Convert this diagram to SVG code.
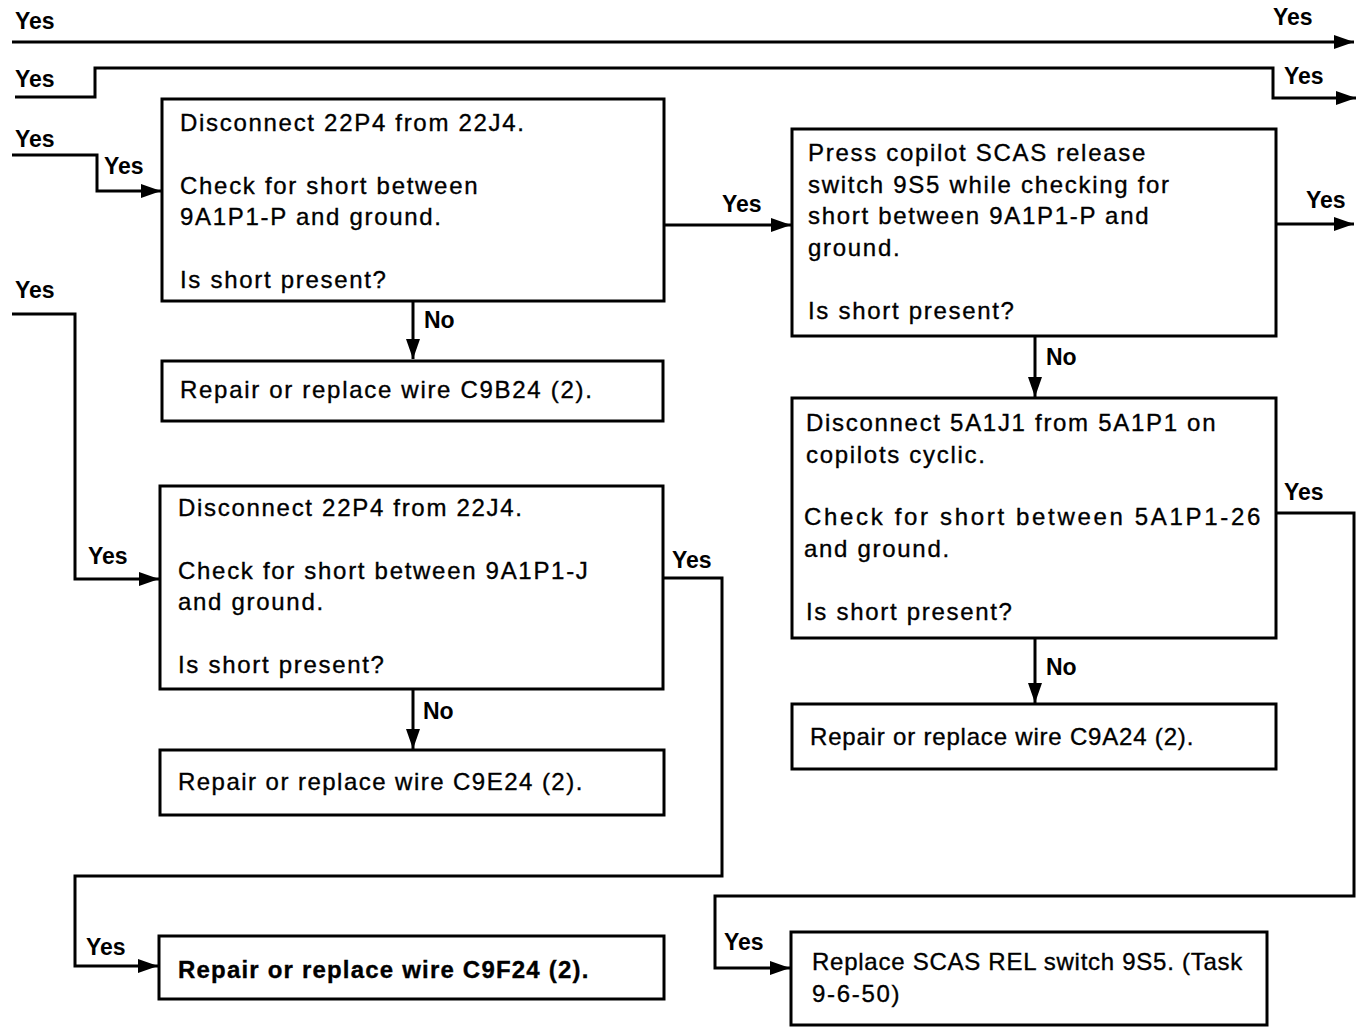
<svg xmlns="http://www.w3.org/2000/svg" width="1360" height="1027" viewBox="0 0 1360 1027">
<style>
.box{fill:#fff;stroke:#000;stroke-width:3}
.t{font-family:"Liberation Sans",Arial,sans-serif;font-size:24px;letter-spacing:1.7px;fill:#000;stroke:#000;stroke-width:0.35}
.lb{font-family:"Liberation Sans",Arial,sans-serif;font-size:23px;font-weight:bold;fill:#000}
.c{fill:none;stroke:#000;stroke-width:3}
</style>
<defs>
<marker id="ah" markerUnits="userSpaceOnUse" markerWidth="22" markerHeight="14" refX="20" refY="7" orient="auto">
<path d="M0,0 L20,7 L0,14 Z" fill="#000"/>
</marker>
</defs>
<rect width="1360" height="1027" fill="#fff"/>
<g id="connectors">
<path class="c" d="M12,42 H1354" marker-end="url(#ah)"/>
<path class="c" d="M15,97 H95 V68 H1273 V98 H1356" marker-end="url(#ah)"/>
<path class="c" d="M12,155 H97 V191 H161" marker-end="url(#ah)"/>
<path class="c" d="M12,314 H75 V579 H159" marker-end="url(#ah)"/>
<path class="c" d="M413,301 V359" marker-end="url(#ah)"/>
<path class="c" d="M664,225 H791" marker-end="url(#ah)"/>
<path class="c" d="M1276,224 H1354" marker-end="url(#ah)"/>
<path class="c" d="M1035,336 V397" marker-end="url(#ah)"/>
<path class="c" d="M1035,638 V703" marker-end="url(#ah)"/>
<path class="c" d="M1276,513 H1354 V896 H715 V968 H790" marker-end="url(#ah)"/>
<path class="c" d="M413,689 V749" marker-end="url(#ah)"/>
<path class="c" d="M663,578 H722 V876 H75 V966 H158" marker-end="url(#ah)"/>
<text class="lb" x="15" y="29">Yes</text>
<text class="lb" x="1273" y="25">Yes</text>
<text class="lb" x="15" y="87">Yes</text>
<text class="lb" x="1284" y="84">Yes</text>
<text class="lb" x="15" y="147">Yes</text>
<text class="lb" x="104" y="174">Yes</text>
<text class="lb" x="15" y="298">Yes</text>
<text class="lb" x="88" y="564">Yes</text>
<text class="lb" x="722" y="212">Yes</text>
<text class="lb" x="1306" y="208">Yes</text>
<text class="lb" x="424" y="328">No</text>
<text class="lb" x="1046" y="365">No</text>
<text class="lb" x="1046" y="675">No</text>
<text class="lb" x="423" y="719">No</text>
<text class="lb" x="1284" y="500">Yes</text>
<text class="lb" x="672" y="568">Yes</text>
<text class="lb" x="724" y="950">Yes</text>
<text class="lb" x="86" y="955">Yes</text>
</g>
<g id="box1">
<rect class="box" x="162" y="99" width="502" height="202"/>
<text class="t" x="180" y="131">Disconnect 22P4 from 22J4.</text>
<text class="t" x="180" y="194">Check for short between</text>
<text class="t" x="180" y="225">9A1P1-P and ground.</text>
<text class="t" x="180" y="288">Is short present?</text>
</g>
<g id="box2">
<rect class="box" x="162" y="361" width="501" height="60"/>
<text class="t" x="180" y="398">Repair or replace wire C9B24 (2).</text>
</g>
<g id="box3">
<rect class="box" x="792" y="129" width="484" height="207"/>
<text class="t" x="808" y="161">Press copilot SCAS release</text>
<text class="t" x="808" y="193">switch 9S5 while checking for</text>
<text class="t" x="808" y="224">short between 9A1P1-P and</text>
<text class="t" x="808" y="256">ground.</text>
<text class="t" x="808" y="319">Is short present?</text>
</g>
<g id="box4">
<rect class="box" x="792" y="398" width="484" height="240"/>
<text class="t" x="806" y="431">Disconnect 5A1J1 from 5A1P1 on</text>
<text class="t" x="806" y="463" letter-spacing="1.2">copilots cyclic.</text>
<text class="t" x="804" y="525" letter-spacing="0.8" textLength="458" lengthAdjust="spacing">Check for short between 5A1P1-26</text>
<text class="t" x="804" y="557" letter-spacing="0.8">and ground.</text>
<text class="t" x="806" y="620">Is short present?</text>
</g>
<g id="box5">
<rect class="box" x="792" y="704" width="484" height="65"/>
<text class="t" x="810" y="745" letter-spacing="0" stroke-width="0" textLength="385" lengthAdjust="spacing">Repair or replace wire C9A24 (2).</text>
</g>
<g id="box6">
<rect class="box" x="791" y="932" width="476" height="93"/>
<text class="t" x="812" y="970" letter-spacing="0" stroke-width="0" textLength="432" lengthAdjust="spacing">Replace SCAS REL switch 9S5. (Task</text>
<text class="t" x="812" y="1002" letter-spacing="0.8" stroke-width="0">9-6-50)</text>
</g>
<g id="box7">
<rect class="box" x="160" y="486" width="503" height="203"/>
<text class="t" x="178" y="516">Disconnect 22P4 from 22J4.</text>
<text class="t" x="178" y="579">Check for short between 9A1P1-J</text>
<text class="t" x="178" y="610">and ground.</text>
<text class="t" x="178" y="673">Is short present?</text>
</g>
<g id="box8">
<rect class="box" x="160" y="750" width="504" height="65"/>
<text class="t" x="178" y="790" letter-spacing="0" textLength="406" lengthAdjust="spacing">Repair or replace wire C9E24 (2).</text>
</g>
<g id="box9">
<rect class="box" x="159" y="936" width="505" height="63"/>
<text class="t" x="178" y="978" font-weight="bold" letter-spacing="0" stroke-width="0" textLength="412" lengthAdjust="spacing">Repair or replace wire C9F24 (2).</text>
</g>
</svg>
